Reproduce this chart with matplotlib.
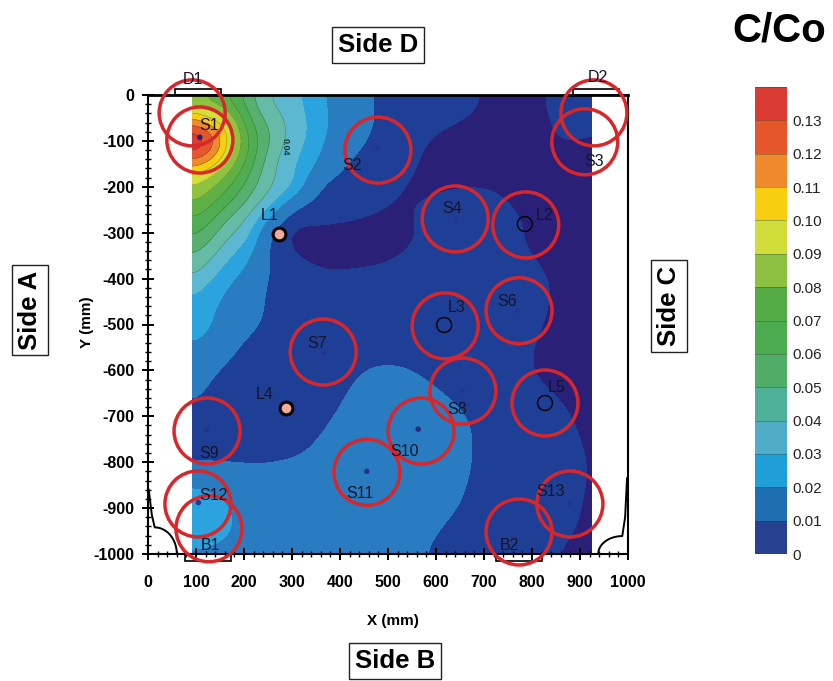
import numpy as np
import matplotlib
matplotlib.use("Agg")
import matplotlib.pyplot as plt
from matplotlib.patches import Ellipse, Rectangle
from matplotlib.tri import Triangulation, CubicTriInterpolator
from matplotlib.ticker import MultipleLocator

plt.rcParams['font.family'] = ['Liberation Sans', 'DejaVu Sans']

grid_x = [92, 130, 170, 210, 250, 300, 350, 400, 500, 600, 700, 800, 900, 927]
grid_y = [0, -50, -100, -150, -200, -250, -300, -350, -400, -450, -500, -600, -700, -800, -900, -1000]
conc = [
 [.078,.073,.066,.053,.040,.033,.023,.015,.0085,.0065,.0052,.0035,.007,.004],
 [.110,.100,.085,.062,.047,.036,.025,.016,.0085,.0060,.0042,.0030,.007,.004],
 [.140,.125,.097,.070,.051,.036,.024,.014,.0080,.0045,.0030,.0030,.005,.004],
 [.115,.105,.085,.065,.046,.032,.019,.0105,.0070,.0040,.0030,.0030,.003,.003],
 [.090,.082,.070,.055,.042,.028,.0105,.0085,.0055,.0045,.0050,.0030,.003,.003],
 [.075,.068,.055,.043,.027,.0085,.0075,.0065,.0048,.0058,.0065,.0042,.003,.003],
 [.0625,.054,.042,.031,.0095,.0040,.0040,.0040,.0040,.0058,.0068,.0045,.003,.003],
 [.050,.042,.031,.0205,.0095,.0050,.0042,.0040,.0045,.0065,.0068,.0050,.003,.003],
 [.039,.031,.021,.0155,.0095,.0065,.0058,.0056,.0060,.0070,.0070,.0058,.0035,.003],
 [.029,.022,.017,.0125,.0093,.0070,.0065,.0062,.0065,.0070,.0070,.0058,.0035,.003],
 [.024,.0205,.014,.011,.0090,.0070,.0068,.0068,.0072,.0075,.0070,.0055,.0035,.003],
 [.015,.011,.0085,.0070,.0065,.0065,.0072,.0085,.0105,.0088,.0072,.0050,.0035,.003],
 [.0085,.0080,.0075,.0070,.0070,.0072,.0085,.0105,.0145,.0125,.0085,.0065,.0045,.0035],
 [.0098,.0097,.0097,.0097,.0098,.0103,.0115,.014,.017,.0145,.0085,.0068,.0052,.004],
 [.027,.024,.020,.016,.0145,.014,.0145,.016,.016,.0115,.0085,.0068,.0050,.004],
 [.017,.017,.016,.015,.014,.0135,.0135,.0135,.012,.0092,.0075,.0055,.0042,.0038],
]
map_levels = [0, .005, .01, .02, .03, .04, .05, .06, .07, .08, .09, .10, .11, .12, .13, .14]
map_colors = ['#2a2078', '#1f3f96', '#2a7cc0', '#2aa3de', '#5cb8d0', '#66bba6', '#58b070', '#4fae52',
              '#5fb045', '#8fc23f', '#d2de3a', '#f8cf10', '#ef8a2c', '#e5562b', '#d93a32']
bar_levels = [0, .01, .02, .03, .04, .05, .06, .07, .08, .09, .10, .11, .12, .13, .14]
bar_colors = ['#27408f', '#1f6fb0', '#1f9fd8', '#4fadc8', '#4fb09a', '#50ad68', '#4cab4f', '#55ab45',
              '#8dc040', '#cfdc3a', '#f8cf10', '#ef8a2c', '#e5562b', '#d93a32']
bar_labels = ['0', '0.01', '0.02', '0.03', '0.04', '0.05', '0.06', '0.07', '0.08', '0.09', '0.10', '0.11', '0.12', '0.13']

ring_x = [92, 108, 479, 929, 910, 640, 787, 619, 773, 365, 656, 827, 123, 569, 456, 104, 127, 879, 773]
ring_y = [-39, -98, -120, -39, -102, -270, -283, -503, -470, -560, -645, -671, -732, -732, -822, -891, -945, -891, -952]
dot_x = [108, 477, 640, 770, 365, 656, 122, 563, 456, 105, 879]
dot_y = [-92, -115, -270, -470, -560, -645, -730, -728, -820, -888, -890]
dot_alpha = [1, .25, .2, .25, .3, .2, .3, .9, .8, .8, .2]
pink_x = [273, 288]
pink_y = [-303, -682]
hollow_x = [785, 617, 827]
hollow_y = [-281, -501, -671]
point_names = ['D1', 'S1', 'S2', 'D2', 'S3', 'L1', 'S4', 'L2', 'L3', 'S6', 'S7', 'L4', 'S8', 'L5', 'S9', 'S10', 'S11', 'S12', 'S13', 'B1', 'B2']
name_px = [193, 209, 352, 598, 594, 270, 452, 545, 457, 507, 317, 265, 457, 557, 209, 405, 360, 213, 551, 210, 509]
name_py = [80, 125, 165, 78, 162, 216, 209, 215, 308, 301, 344, 394, 409, 388, 453, 452, 494, 495, 492, 546, 545]

W, H = 833, 681
fig = plt.figure(figsize=(W / 100, H / 100), dpi=100, facecolor='white')
ax = fig.add_axes([148 / W, 1 - 554 / H, 480 / W, 459 / H])
ax.set_xlim(0, 1000)
ax.set_ylim(-1000, 0)

X, Y = np.meshgrid(grid_x, grid_y)
Z = np.array(conc)
tri = Triangulation(X.ravel(), Y.ravel())
interp = CubicTriInterpolator(tri, Z.ravel(), kind='min_E')
step = 4.0
fx = np.arange(92.01, 926.99, step)
fy = np.arange(-999.99, -0.01, step)
FX, FY = np.meshgrid(fx, fy)
FZ = np.ma.filled(interp(FX, FY), 0.005)
FZ = np.clip(FZ, 0.0008, None)


def blur(a, sigma):
    n = int(3 * sigma / step)
    k = np.exp(-0.5 * (np.arange(-n, n + 1) * step / sigma) ** 2)
    k /= k.sum()
    p = np.pad(a, n, mode='reflect')
    p = np.apply_along_axis(lambda r: np.convolve(r, k, mode='valid'), 0, p)
    p = np.apply_along_axis(lambda r: np.convolve(r, k, mode='valid'), 1, p)
    return p


w = np.clip(FZ / 0.03, 0, 1)
smooth = w * blur(FZ, 13) + (1 - w) * blur(FZ, 26)
smooth = np.clip(smooth, 0.0005, 0.1395)
ax.contourf(FX, FY, smooth, levels=map_levels, colors=map_colors, zorder=1)
ax.contour(FX, FY, smooth, levels=map_levels[5:-1], colors='#204a30', linewidths=0.35, alpha=0.55, zorder=2)

for x, y in zip(ring_x, ring_y):
    ax.add_patch(Ellipse((x, y), 66 / .48, 66 / .459, fill=False, ec='#d8262a', lw=2.5, zorder=6, clip_on=False))
ax.scatter(dot_x, dot_y, s=16, c='#28207a', alpha=dot_alpha, lw=0, zorder=5)
ax.scatter(pink_x, pink_y, s=85, c='#f2a9a0', ec='black', lw=2.2, zorder=5)
ax.scatter(hollow_x, hollow_y, s=115, facecolors='none', ec='black', lw=1.0, zorder=5)

# corner fillets and brackets
arc = np.linspace(0, np.pi / 2, 24)
ax.plot(np.r_[14 + 46 * np.cos(arc), 8, 1.5], np.r_[-1000 + 58 * np.sin(arc), -915, -860],
        color='black', lw=1.4, zorder=4, clip_on=False)
ax.plot(np.r_[988 - 50 * np.cos(arc), 994, 998], np.r_[-1000 + 39 * np.sin(arc), -920, -835],
        color='black', lw=1.4, zorder=4, clip_on=False)
for x0, y0 in [(56, 0), (886, 0), (77, -1000), (725, -1000)]:
    hgt = 14 if y0 == 0 else -15
    ax.add_patch(Rectangle((x0, y0), 96, hgt, fill=False, ec='black', lw=1.2, zorder=3, clip_on=False))

ax.xaxis.set_major_locator(MultipleLocator(100))
ax.xaxis.set_minor_locator(MultipleLocator(20))
ax.yaxis.set_major_locator(MultipleLocator(100))
ax.yaxis.set_minor_locator(MultipleLocator(20))
ax.tick_params(which='major', direction='inout', length=8, width=1.4, labelsize=11.5)
ax.tick_params(which='minor', direction='inout', length=4, width=1.0)
ax.tick_params(axis='x', which='major', pad=11)
ax.tick_params(axis='y', which='major', pad=6)
ax.xaxis.set_major_formatter(lambda v, p: f'{int(v)}')
ax.yaxis.set_major_formatter(lambda v, p: f'{int(v)}')
for lab in ax.get_xticklabels() + ax.get_yticklabels():
    lab.set_fontweight('bold')
for side in ax.spines.values():
    side.set_linewidth(1.5)
    side.set_zorder(4)
ax.spines['top'].set_linewidth(2.0)
ax.grid(False)


def ftext(px, py, s, **kw):
    kw.setdefault('ha', 'center')
    kw.setdefault('va', 'center')
    return fig.text(px / W, 1 - py / H, s, **kw)


for nm, px, py in zip(point_names, name_px, name_py):
    ftext(px, py, nm, fontsize=11.5, color='#141428', zorder=8)
ftext(285, 147, '0.04', fontsize=6.5, rotation=270, color='#123a30', fontweight='bold')
ftext(393, 621, 'X (mm)', fontsize=11, fontweight='bold')
ftext(87, 322, 'Y (mm)', fontsize=11, fontweight='bold', rotation=90)
ftext(732, 30, 'C/Co', fontsize=29, fontweight='bold', ha='left')

box = dict(boxstyle='square,pad=0.22', fc='white', ec='#222222', lw=1.0)
ftext(378, 45, 'Side D', fontsize=18.5, fontweight='bold', bbox=box)
ftext(395, 661, 'Side B', fontsize=18.5, fontweight='bold', bbox=box)
ftext(30, 310, 'Side A', fontsize=18.5, fontweight='bold', rotation=90, bbox=box)
ftext(669, 306, 'Side C', fontsize=18.5, fontweight='bold', rotation=90, bbox=box)

# colour bar
cax = fig.add_axes([755 / W, 1 - 554 / H, 32 / W, 467 / H])
cax.set_xlim(0, 1)
cax.set_ylim(bar_levels[0], bar_levels[-1])
for low, high, col in zip(bar_levels[:-1], bar_levels[1:], bar_colors):
    cax.barh(low, 1, height=high - low, align='edge', color=col, lw=0)
    cax.axhline(high, color='#333333', lw=0.4, alpha=0.6)
cax.set_xticks([])
cax.set_yticks(bar_levels[:-1], bar_labels)
cax.yaxis.tick_right()
cax.tick_params(axis='y', length=0, pad=4, labelsize=11, labelcolor='#222222')
for side in cax.spines.values():
    side.set_visible(False)

fig.savefig('out.png', dpi=100)
